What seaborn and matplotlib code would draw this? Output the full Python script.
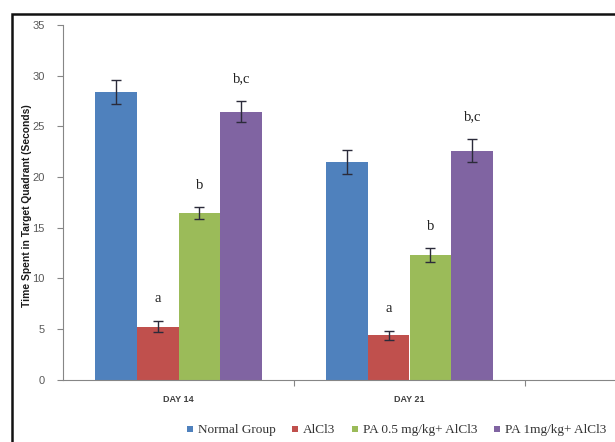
import matplotlib
matplotlib.use("Agg")
import matplotlib.pyplot as plt
from matplotlib.lines import Line2D
from matplotlib.patches import Rectangle
import seaborn as sns
import pandas as pd

# Test days and treatment groups
days = ["DAY 14", "DAY 21"]
groups = ["Normal Group", "AlCl3", "PA 0.5 mg/kg+ AlCl3", "PA 1mg/kg+ AlCl3"]

# Mean time spent in the target quadrant (seconds) and SEM, one entry per day
normal_mean = [28.4, 21.5]
normal_err = [1.2, 1.2]
alcl3_mean = [5.2, 4.35]
alcl3_err = [0.55, 0.45]
pa05_mean = [16.4, 12.3]
pa05_err = [0.6, 0.65]
pa1_mean = [26.45, 22.6]
pa1_err = [1.05, 1.1]

# Significance letters per group
sig_labels = ["", "a", "b", "b,c"]

colors = ["#4F81BD", "#C0504D", "#9BBB59", "#8064A2"]

means = [normal_mean, alcl3_mean, pa05_mean, pa1_mean]
errs = [normal_err, alcl3_err, pa05_err, pa1_err]

rows = []
for g, m in zip(groups, means):
    for d, v in zip(days, m):
        rows.append({"Day": d, "Group": g, "Time": v})
df = pd.DataFrame(rows)

sns.set_style("white")
plt.rcParams["font.family"] = ["Liberation Sans", "DejaVu Sans"]

fig = plt.figure(figsize=(6.15, 4.42), dpi=100)
W, H = 615, 442
ax = fig.add_axes([63 / W, (H - 379.5) / H, 693 / W, 354.5 / H])

sns.barplot(data=df, x="Day", y="Time", hue="Group", order=days + [""],
            hue_order=groups, palette=colors, saturation=1, width=0.726,
            errorbar=None, linewidth=0, legend=False, ax=ax)

# Error bars and significance letters placed on each bar
for cont, e_list, lab in zip(ax.containers, errs, sig_labels):
    for patch, e in zip(cont.patches, e_list):
        xc = patch.get_x() + patch.get_width() / 2
        top = patch.get_height()
        ax.errorbar(xc, top, yerr=e, fmt="none", ecolor="#2b2b3a",
                    elinewidth=1.0, capsize=3.5, capthick=1.0, zorder=5)
        if lab:
            ax.text(xc, top + e + 2.2, lab, ha="center", va="center",
                    fontsize=10.5, family=["Liberation Serif", "DejaVu Serif"],
                    color="#222222")

ax.set_xlim(-0.5, 2.5)
ax.set_ylim(0, 35)
ax.set_yticks(range(0, 36, 5))
ax.set_xlabel("")
ax.set_ylabel("Time Spent in Target Quadrant (Seconds)", fontsize=7.4,
              fontweight="bold", color="#1a1a1a")
ax.yaxis.set_label_coords(-0.045, 0.49)

ax.set_xticks([0, 1, 2])
ax.set_xticklabels(days + [""], fontsize=6.5, fontweight="bold", color="#404040")
ax.set_xticks([0.5, 1.5], minor=True)
ax.tick_params(axis="x", which="major", length=0, pad=11)
ax.tick_params(axis="x", which="minor", length=4, width=0.8, color="#868686",
               direction="out", bottom=True)
ax.tick_params(axis="y", length=4, width=0.8, color="#868686", direction="out",
               left=True, labelsize=8, labelcolor="#595959", pad=9)

for s in ["top", "right"]:
    ax.spines[s].set_visible(False)
for s in ["left", "bottom"]:
    ax.spines[s].set_color("#868686")
    ax.spines[s].set_linewidth(0.8)

# Legend with small square keys, serif text
handles = [Line2D([0], [0], marker="s", linestyle="none", markersize=4.5,
                  markerfacecolor=c, markeredgewidth=0) for c in colors]
fig.legend(handles, groups, loc="center", bbox_to_anchor=(0.644, 0.027),
           ncol=4, frameon=False, handlelength=0.6, handletextpad=0.3,
           columnspacing=1.2,
           prop={"family": ["Liberation Serif", "DejaVu Serif"], "size": 9.5},
           labelcolor="#333333")

# Chart frame
fig.patches.append(Rectangle((11.5 / W, -0.1), 1.2, (H - 13.5) / H + 0.1,
                             transform=fig.transFigure, fill=False,
                             edgecolor="#111111", linewidth=1.8))

fig.savefig("out.png", dpi=100)
